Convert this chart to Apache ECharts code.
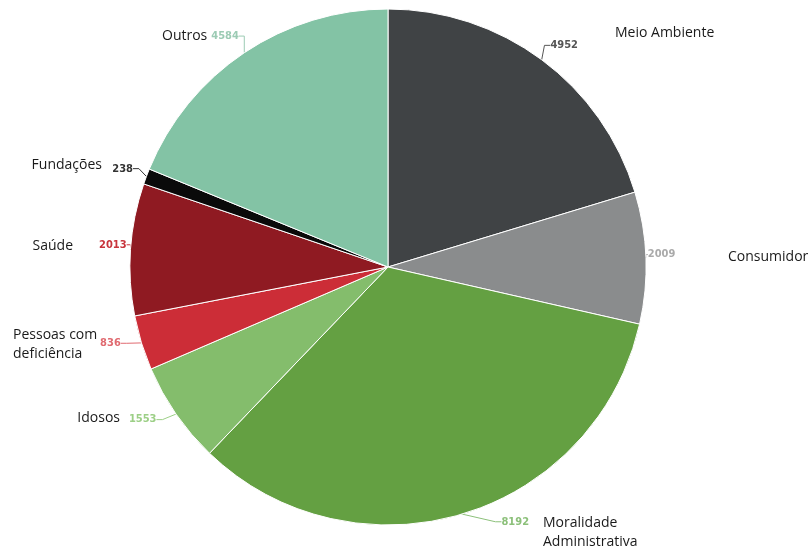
<!DOCTYPE html>
<html>
<head>
<meta charset="utf-8">
<script src="https://cdn.jsdelivr.net/npm/echarts@6/dist/echarts.min.js"></script>
<style>
  html, body { margin: 0; padding: 0; background: #fff; }
  #main { width: 811px; height: 550px; }
</style>
</head>
<body>
<div id="main"></div>
<script>
// categorias e valores
const categories = ['Meio Ambiente', 'Consumidor', 'Moralidade\nAdministrativa', 'Idosos',
    'Pessoas com\ndeficiência', 'Saúde', 'Fundações', 'Outros'];
const values = [4952, 2009, 8192, 1553, 836, 2013, 238, 4584];

// cores das fatias e dos numeros
const sliceColors = ['#404345', '#8a8c8d', '#64a042', '#84bd6c', '#cc2d37', '#8f1a22', '#0a0a0a', '#83c3a5'];
const numColors = ['#555555', '#aaaaaa', '#8cc07a', '#9ccf86', '#e06a70', '#c8343c', '#333333', '#9ccbb4'];

// ajuste fino dos rotulos (posicao do texto)
const numShift = [[-7, -8], [-17, -3], [26, 0], [-2, 1], [-2, -2], [15, -4], [5, -5], [10, -10]];
const namePos = [[615, 33, 'left'], [728, 257, 'left'], [543, 533, 'left'], [120, 418, 'right'],
    [13, 345, 'left'], [73, 246, 'right'], [102, 165, 'right'], [162, 36, 'left']];

const pieData = categories.map((c, i) => ({
    name: c,
    value: values[i],
    itemStyle: {color: sliceColors[i]},
    label: {color: numColors[i]},
    labelLine: {lineStyle: {color: numColors[i]}}
}));

const nameData = categories.map((c, i) => ({name: c, value: values[i]}));

var myChart = echarts.init(document.getElementById('main'));

option = {
    animation: false,
    series: [{
        type: 'pie',
        center: [388, 267],
        radius: 258,
        startAngle: 90,
        clockwise: true,
        avoidLabelOverlap: false,
        itemStyle: {borderColor: '#ffffff', borderWidth: 1},
        label: {
            show: true,
            formatter: '{c}',
            fontFamily: 'DejaVu Sans Condensed',
            fontWeight: 'bold',
            fontSize: 11
        },
        labelLine: {show: true, length: 8, length2: 6, lineStyle: {width: 1}},
        labelLayout: function (p) {
            let s = numShift[p.dataIndex];
            return {x: p.labelRect.x + s[0], y: p.labelRect.y + s[1], align: 'left', verticalAlign: 'top'};
        },
        data: pieData
    }, {
        type: 'pie',
        silent: true,
        center: [388, 267],
        radius: 258,
        startAngle: 90,
        clockwise: true,
        avoidLabelOverlap: false,
        itemStyle: {color: 'rgba(0,0,0,0)', borderWidth: 0},
        label: {
            show: true,
            formatter: '{b}',
            color: '#1a1a1a',
            fontFamily: 'Open Sans',
            fontSize: 14,
            lineHeight: 19
        },
        labelLine: {show: false},
        labelLayout: function (p) {
            let q = namePos[p.dataIndex];
            return {x: q[0], y: q[1], align: q[2], verticalAlign: 'middle'};
        },
        data: nameData
    }]
};
myChart.setOption(option);
</script>
</body>
</html>
